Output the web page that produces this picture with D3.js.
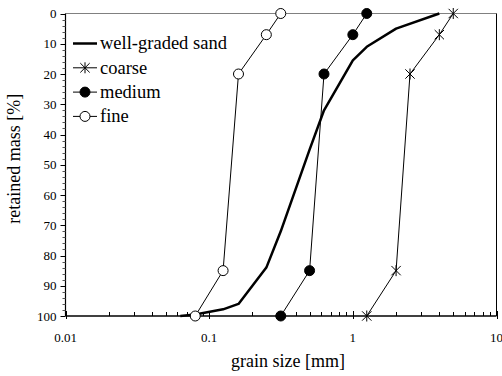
<!DOCTYPE html>
<html>
<head>
<meta charset="utf-8">
<script src="https://cdn.jsdelivr.net/npm/d3@7"></script>
<style>
  html, body { margin: 0; padding: 0; background: #fff; }
  svg { display: block; }
  text { font-family: "Liberation Serif", Tinos, "Times New Roman", Times, serif; }
</style>
</head>
<body>
<svg id="chart" width="502" height="376"></svg>
<script>
// Grain size distributions: sieve size [mm] vs. retained mass [%]
const wellGradedSize = [4, 2, 1.25, 1, 0.63, 0.5, 0.315, 0.25, 0.16, 0.125, 0.08, 0.063];
const wellGradedMass = [0, 5, 11, 15.5, 32, 45, 72, 84, 96, 97.8, 99.5, 100];

const coarseSize = [5, 4, 2.5, 2, 1.25];
const coarseMass = [0, 7, 20, 85, 100];

const mediumSize = [1.25, 1, 0.63, 0.5, 0.315];
const mediumMass = [0, 7, 20, 85, 100];

const fineSize = [0.315, 0.25, 0.16, 0.125, 0.08];
const fineMass = [0, 7, 20, 85, 100];

const xTickValues = [0.01, 0.1, 1, 10];
const xTickLabels = ["0.01", "0.1", "1", "10"];
const yTickValues = [0, 10, 20, 30, 40, 50, 60, 70, 80, 90, 100];

const legendLabels = ["well-graded sand", "coarse", "medium", "fine"];

const FONT = "'Liberation Serif', Tinos, 'Times New Roman', Times, serif";

const svg = d3.select("#chart");
const plotLeft = 65.5, plotRight = 496.5, plotTop = 13.5, plotBottom = 316;

const x = d3.scaleLog().domain([0.01, 10]).range([plotLeft, plotRight]);
const y = d3.scaleLinear().domain([0, 100]).range([plotTop, plotBottom]);

// plot frame: top edge grey, right edge black
svg.append("line").attr("x1", plotLeft).attr("x2", plotRight).attr("y1", plotTop).attr("y2", plotTop)
  .attr("stroke", "#808080").attr("stroke-width", 1);
svg.append("line").attr("x1", plotRight).attr("x2", plotRight).attr("y1", plotTop).attr("y2", plotBottom)
  .attr("stroke", "#000").attr("stroke-width", 1);

// y axis with minor ticks every 2 %
const yMinor = d3.range(0, 101, 2).filter(v => v % 10 !== 0);
const yAxisG = svg.append("g").attr("transform", `translate(${plotLeft},0)`);
yAxisG.append("line").attr("x1", 0).attr("x2", 0).attr("y1", plotTop).attr("y2", plotBottom)
  .attr("stroke", "#000").attr("stroke-width", 1.2);
yAxisG.selectAll("line.minor").data(yMinor).join("line").attr("class", "minor")
  .attr("x1", -3).attr("x2", 0).attr("y1", d => Math.round(y(d)) + 0.5).attr("y2", d => Math.round(y(d)) + 0.5)
  .attr("stroke", "#555").attr("stroke-width", 1);
yAxisG.selectAll("line.major").data(yTickValues).join("line").attr("class", "major")
  .attr("x1", -5).attr("x2", 0).attr("y1", d => Math.round(y(d)) + 0.5).attr("y2", d => Math.round(y(d)) + 0.5)
  .attr("stroke", "#000").attr("stroke-width", 1);
yAxisG.selectAll("text").data(yTickValues).join("text")
  .attr("x", -9).attr("y", d => y(d)).attr("dy", "0.35em")
  .attr("text-anchor", "end").attr("font-family", FONT).attr("font-size", 13).attr("fill", "#000")
  .text(d => d);

// x axis (log) with minor ticks pointing inward
const xMinor = [];
[0.01, 0.1, 1].forEach(dec => { for (let k = 2; k <= 9; k++) xMinor.push(dec * k); });
const xAxisG = svg.append("g").attr("transform", `translate(0,${plotBottom})`);
xAxisG.append("line").attr("x1", plotLeft).attr("x2", plotRight).attr("y1", 0).attr("y2", 0)
  .attr("stroke", "#000").attr("stroke-width", 1.5);
xAxisG.selectAll("line.minor").data(xMinor).join("line").attr("class", "minor")
  .attr("x1", d => Math.round(x(d)) + 0.5).attr("x2", d => Math.round(x(d)) + 0.5)
  .attr("y1", 0).attr("y2", -4).attr("stroke", "#000").attr("stroke-width", 1);
xAxisG.selectAll("line.major").data(xTickValues).join("line").attr("class", "major")
  .attr("x1", d => Math.round(x(d)) + 0.5).attr("x2", d => Math.round(x(d)) + 0.5)
  .attr("y1", 3).attr("y2", -5).attr("stroke", "#000").attr("stroke-width", 1);
xAxisG.selectAll("text").data(xTickValues).join("text")
  .attr("x", d => x(d)).attr("y", 26)
  .attr("text-anchor", "middle").attr("font-family", FONT).attr("font-size", 13).attr("fill", "#000")
  .text((d, i) => xTickLabels[i]);

// axis titles
svg.append("text").attr("x", (plotLeft + plotRight) / 2 + 7).attr("y", 367)
  .attr("text-anchor", "middle").attr("font-family", FONT).attr("font-size", 18).text("grain size [mm]");
svg.append("text").attr("transform", `translate(20,${(plotTop + plotBottom) / 2 - 6}) rotate(-90)`)
  .attr("text-anchor", "middle").attr("font-family", FONT).attr("font-size", 18).text("retained mass [%]");

// markers
function starPath(s) {
  // asterisk: vertical bar crossed by an X
  const d = s * 0.85;
  return `M0,${-s}L0,${s}M${-d},${-d}L${d},${d}M${-d},${d}L${d},${-d}`;
}
function drawMarker(g, type, cx, cy) {
  if (type === "star") {
    g.append("path").attr("d", starPath(5.5)).attr("transform", `translate(${cx},${cy})`)
      .attr("stroke", "#000").attr("stroke-width", 1).attr("fill", "none");
  } else if (type === "dot") {
    g.append("circle").attr("cx", cx).attr("cy", cy).attr("r", 5)
      .attr("fill", "#000").attr("stroke", "#000").attr("stroke-width", 1);
  } else if (type === "ring") {
    g.append("circle").attr("cx", cx).attr("cy", cy).attr("r", 5)
      .attr("fill", "#fff").attr("stroke", "#000").attr("stroke-width", 1);
  }
}

const series = [
  { size: wellGradedSize, mass: wellGradedMass, width: 2.5, marker: null },
  { size: coarseSize, mass: coarseMass, width: 1, marker: "star" },
  { size: mediumSize, mass: mediumMass, width: 1, marker: "dot" },
  { size: fineSize, mass: fineMass, width: 1, marker: "ring" }
];

const line = d3.line().x(d => x(d[0])).y(d => y(d[1]));
const plot = svg.append("g");
series.forEach(s => {
  const pts = s.size.map((v, i) => [v, s.mass[i]]);
  plot.append("path").attr("d", line(pts)).attr("fill", "none")
    .attr("stroke", "#000").attr("stroke-width", s.width).attr("stroke-linejoin", "round");
  if (s.marker) pts.forEach(p => drawMarker(plot, s.marker, x(p[0]), y(p[1])));
});

// legend
const legend = svg.append("g");
series.forEach((s, i) => {
  const cy = 43.5 + i * 24.3;
  legend.append("line").attr("x1", 73).attr("x2", 97).attr("y1", cy).attr("y2", cy)
    .attr("stroke", "#000").attr("stroke-width", s.width);
  if (s.marker) drawMarker(legend, s.marker, 85, cy);
  legend.append("text").attr("x", 100).attr("y", cy).attr("dy", "0.32em")
    .attr("font-family", FONT).attr("font-size", 18.5).attr("fill", "#000").text(legendLabels[i]);
});
</script>
</body>
</html>
